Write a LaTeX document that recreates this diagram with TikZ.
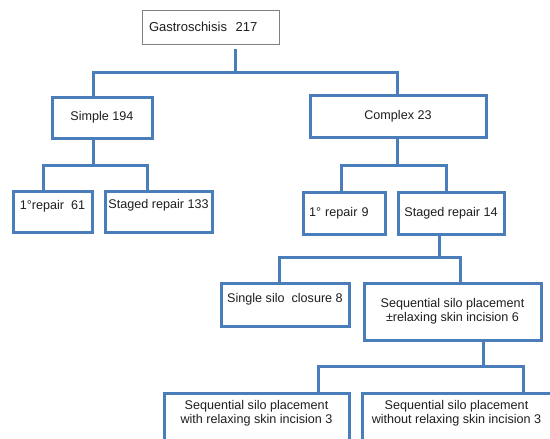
\documentclass[tikz,border=0pt]{standalone}
\usepackage{fontspec}
\setmainfont{Liberation Sans}
\usetikzlibrary{shadows}
\definecolor{boxblue}{RGB}{74,126,187}
\definecolor{rootgray}{RGB}{128,128,128}
\definecolor{inkgray}{RGB}{30,30,30}
\tikzset{
    blubox/.style={draw=boxblue, line width=3pt, fill=white, rectangle,
        text=inkgray, font=\fontsize{12.6}{14}\selectfont, align=center,
        drop shadow={shadow xshift=1.5pt, shadow yshift=-1.5pt, fill=black!35, opacity=.45}},
    lift/.style={text height=9pt, text depth=#1},
    link/.style={draw=boxblue, line width=3pt}
}
\begin{document}
\begin{tikzpicture}[x=1pt,y=-1pt]
        \clip (0,0) rectangle (550,439);
        \useasboundingbox (0,0) rectangle (550,439);
        \node (Gas) [draw=rootgray, line width=0.8pt, fill=white, text=inkgray,
            minimum width=137pt, minimum height=34pt, inner xsep=7pt,
            text width=123pt, align=left, font=\fontsize{13}{15}\selectfont,
            drop shadow={shadow xshift=1pt, shadow yshift=-1pt, fill=black!30, opacity=.4}]
            at (210.5,27) {Gastroschisis\ \ 217};
        \begin{scope}[every node/.style={blubox}]
            \node (Sim) [minimum width=100pt, minimum height=41pt] at (102,117.5) {Simple 194};
            \node (Com) [minimum width=176pt, minimum height=42pt] at (398,116) {Complex 23};
            \node (Rep1) [minimum width=79pt, minimum height=41pt, lift=12.5pt] at (52.5,211.5) {1\textdegree repair\ \ 61};
            \node (Stg1) [minimum width=107pt, minimum height=41pt, lift=14.5pt] at (158.5,211.5) {Staged repair 133};
            \node (Rep2) [minimum width=82pt, minimum height=42pt, text width=70pt, align=left] at (344,213) {1\textdegree\ repair 9};
            \node (Stg2) [minimum width=106pt, minimum height=42pt] at (451,213) {Staged repair 14};
            \node (Silo) [minimum width=128pt, minimum height=43pt, lift=13.5pt] at (285,304.5) {Single silo\ \ closure 8};
            \node (Seq) [minimum width=177pt, minimum height=57pt] at (452.5,311.5) {Sequential silo placement\\ \textpm relaxing skin incision 6};
            \node (SeqW) [minimum width=185pt, minimum height=57pt, lift=5pt] at (256.5,421.5) {Sequential silo placement\\ with relaxing skin incision 3};
            \node (SeqWo) [minimum width=189pt, minimum height=57pt, lift=5pt] at (456.5,421.5) {Sequential silo placement\\ without relaxing skin incision 3};
        \end{scope}
        \coordinate (b1) at (235,72);
        \coordinate (b2) at (93,165);
        \coordinate (b3) at (397.5,165);
        \coordinate (b4) at (439,257);
        \coordinate (b5) at (483,366);
        \begin{scope}[every path/.style={link}]
            \draw ([yshift=-5pt]Gas.south -| b1) -- (b1);
            \draw ([xshift=-9pt]Sim.north) |- (b1) -| ([xshift=-0.5pt]Com.north);
            \draw (Sim.south -| b2) -- (b2);
            \draw ([xshift=-9.5pt]Rep1.north) |- (b2) -| ([xshift=-11.5pt]Stg1.north);
            \draw (Com.south -| b3) -- (b3);
            \draw ([xshift=-3pt]Rep2.north) |- (b3) -| ([xshift=-5pt]Stg2.north);
            \draw (Stg2.south -| b4) -- (b4);
            \draw ([xshift=-6pt]Silo.north) |- (b4) -| ([xshift=7.5pt]Seq.north);
            \draw (Seq.south -| b5) -- (b5);
            \draw ([xshift=61.5pt]SeqW.north) |- (b5) -| ([xshift=66.5pt]SeqWo.north);
        \end{scope}
    \end{tikzpicture}
\end{document}
